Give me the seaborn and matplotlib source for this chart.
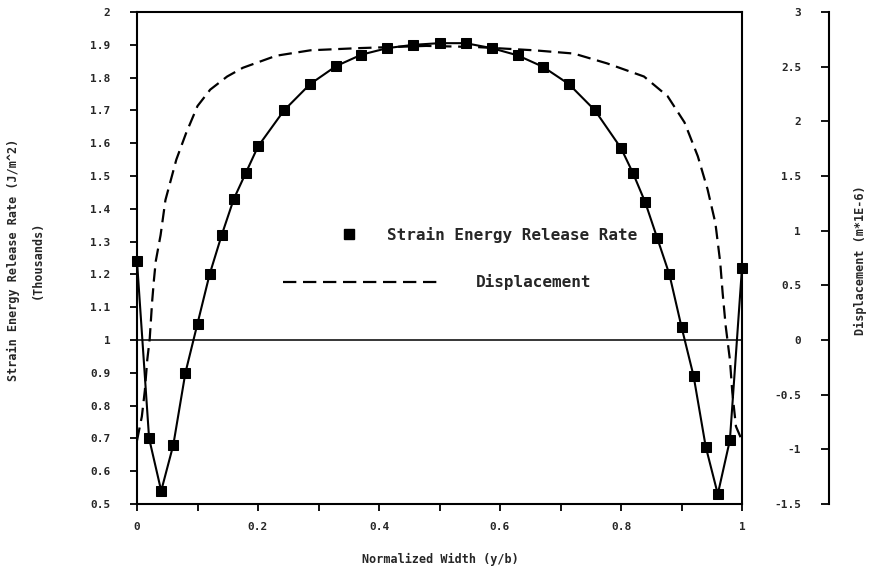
import matplotlib
matplotlib.use("Agg")
import matplotlib.pyplot as plt
from matplotlib.lines import Line2D
from matplotlib.ticker import FuncFormatter
import seaborn as sns

# strain energy release rate, thousands of J/m^2 (left axis)
g_x = [0.0, 0.02, 0.04, 0.06, 0.08, 0.10, 0.12, 0.14, 0.16, 0.18, 0.20,
       0.243, 0.286, 0.329, 0.371, 0.414, 0.457, 0.50, 0.543, 0.586, 0.629,
       0.671, 0.714, 0.757,
       0.80, 0.82, 0.84, 0.86, 0.88, 0.90, 0.92, 0.94, 0.96, 0.98, 1.0]
g_val = [1.24, 0.70, 0.54, 0.68, 0.90, 1.05, 1.20, 1.32, 1.43, 1.51, 1.59,
         1.70, 1.78, 1.835, 1.87, 1.89, 1.90, 1.905, 1.905, 1.89, 1.868,
         1.833, 1.78, 1.70,
         1.585, 1.508, 1.42, 1.31, 1.20, 1.04, 0.89, 0.675, 0.53, 0.695, 1.22]

# displacement, m*1E-6 (right axis)
d_x = [0.0, 0.008, 0.013, 0.017, 0.021, 0.025, 0.028, 0.031, 0.039, 0.047,
       0.065, 0.081, 0.100, 0.121, 0.149, 0.175, 0.23, 0.287, 0.368, 0.478,
       0.56, 0.656, 0.722, 0.777, 0.838, 0.877, 0.905, 0.927, 0.943, 0.956,
       0.964, 0.968, 0.973, 0.980, 0.984, 0.990, 1.0]
d_val = [-0.92, -0.70, -0.46, -0.18, 0.01, 0.35, 0.55, 0.72, 0.96, 1.28,
         1.65, 1.89, 2.14, 2.29, 2.41, 2.49, 2.60, 2.65, 2.67, 2.69,
         2.68, 2.65, 2.62, 2.53, 2.41, 2.23, 1.99, 1.68, 1.38, 1.07,
         0.71, 0.43, 0.13, -0.18, -0.48, -0.79, -0.92]

x_ticks = [0, 0.2, 0.4, 0.6, 0.8, 1.0]
x_minor = [0.1, 0.3, 0.5, 0.7, 0.9]
g_ticks = [0.5, 0.6, 0.7, 0.8, 0.9, 1.0, 1.1, 1.2, 1.3, 1.4, 1.5, 1.6, 1.7, 1.8, 1.9, 2.0]
d_ticks = [-1.5, -1.0, -0.5, 0, 0.5, 1.0, 1.5, 2.0, 2.5, 3.0]

sns.set_style("ticks")
plt.rcParams["font.family"] = ["DejaVu Sans Mono", "DejaVu Sans"]
plt.rcParams["font.weight"] = "bold"
plt.rcParams["axes.labelweight"] = "bold"

fmt = FuncFormatter(lambda v, p: "%g" % round(v, 2))

fig = plt.figure(figsize=(8.75, 5.72), dpi=100)
ax = fig.add_axes([137 / 875, 0.1189, 605 / 875, 0.8601])
ax2 = ax.twinx()

sns.lineplot(x=g_x, y=g_val, ax=ax, color="black", marker="s", markersize=7,
             markeredgecolor="black", linewidth=1.5, clip_on=False, legend=False)
sns.lineplot(x=d_x, y=d_val, ax=ax2, color="black", linewidth=1.6,
             linestyle=(0, (6, 3)), legend=False)
ax2.axhline(0, color="black", linewidth=1.1)

ax.set_xlim(0, 1)
ax.set_ylim(0.5, 2)
ax2.set_ylim(-1.5, 3)
ax2.set_yticks([])
for s in ax2.spines.values():
    s.set_visible(False)
ax.set_zorder(ax2.get_zorder() + 1)
ax.patch.set_visible(False)

ax.set_xticks(x_ticks)
ax.set_xticks(x_minor, minor=True)
ax.set_yticks(g_ticks)
ax.xaxis.set_major_formatter(fmt)
ax.yaxis.set_major_formatter(fmt)
ax.tick_params(axis="both", which="both", direction="out", length=5, width=1.3,
               color="black", labelsize=8)
ax.tick_params(axis="y", pad=14)
ax.tick_params(axis="x", which="major", pad=8)
for s in ax.spines.values():
    s.set_visible(True)
    s.set_linewidth(1.5)
    s.set_color("black")

ax.set_xlabel("Normalized Width (y/b)", fontsize=8.5)
ax.xaxis.set_label_coords(440 / 875, 1 - 553 / 572, transform=fig.transFigure)
ax.set_ylabel("Strain Energy Release Rate (J/m^2)\n(Thousands)", fontsize=8.5,
              linespacing=2.1)
ax.yaxis.set_label_coords(44 / 875, 1 - 260 / 572, transform=fig.transFigure)

# separate displacement scale, standing right of the plot box
ax_r = fig.add_axes([829 / 875, 0.1189, 1e-6, 0.8601])
ax_r.patch.set_visible(False)
ax_r.set_ylim(-1.5, 3)
ax_r.set_yticks(d_ticks)
ax_r.yaxis.set_major_formatter(fmt)
ax_r.set_xticks([])
for k in ["top", "right", "bottom"]:
    ax_r.spines[k].set_visible(False)
ax_r.spines["left"].set_linewidth(1.5)
ax_r.spines["left"].set_color("black")
ax_r.tick_params(axis="y", direction="out", length=6, width=1.3, pad=14,
                 color="black", labelsize=8)
ax_r.set_ylabel("Displacement (m*1E-6)", fontsize=8.5)
ax_r.yaxis.set_label_coords(867 / 875, 1 - 260 / 572, transform=fig.transFigure)

# legend, two entries laid out separately as in the original
lfont = {"family": "DejaVu Sans Mono", "size": 11.5, "weight": "bold"}
h1 = Line2D([], [], linestyle="none", marker="s", markersize=7, color="black")
h2 = Line2D([], [], linestyle=(0, (6, 3)), linewidth=1.6, color="black")
leg1 = ax.legend([h1], ["Strain Energy Release Rate"], loc="center left",
                 bbox_to_anchor=(0.337, 0.547), frameon=False, handlelength=1.0,
                 handletextpad=1.9, borderpad=0, borderaxespad=0, prop=lfont)
ax.add_artist(leg1)
ax.legend([h2], ["Displacement"], loc="center left",
          bbox_to_anchor=(0.241, 0.451), frameon=False, handlelength=10.0,
          handletextpad=2.1, borderpad=0, borderaxespad=0, prop=lfont)

fig.savefig("out.png", dpi=100)
